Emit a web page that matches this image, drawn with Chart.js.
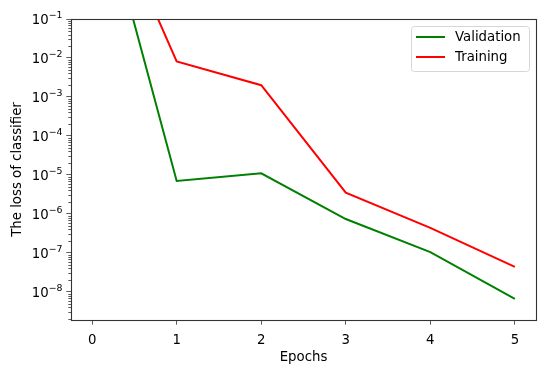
<!DOCTYPE html>
<html>
<head>
<meta charset="utf-8">
<script src="https://cdn.jsdelivr.net/npm/chart.js@4.4.1/dist/chart.umd.min.js"></script>
<style>
  html, body { margin: 0; padding: 0; background: #fff; }
  canvas { display: block; }
</style>
</head>
<body>
<canvas id="myChart" width="550" height="371"></canvas>
<script>
// data
var epochs = [0, 1, 2, 3, 4, 5];
var validation = [800, 7.0e-6, 1.1e-5, 7.4e-7, 1.05e-7, 6.6e-9];
var training = [680, 8.2e-3, 2.0e-3, 3.5e-6, 4.4e-7, 4.4e-8];
var yTicks = [1e-8, 1e-7, 1e-6, 1e-5, 1e-4, 1e-3, 1e-2, 1e-1];
var yExponents = ['−8', '−7', '−6', '−5', '−4', '−3', '−2', '−1'];
var seriesNames = ['Validation', 'Training'];
var seriesColors = ['#008000', '#ff0000'];

var font = 'DejaVu Sans';
var spine = '#333333';

function points(ys) {
  return epochs.map(function (x, i) { return { x: x, y: ys[i] }; });
}

// frame, minor ticks, 10^n labels and legend, drawn like matplotlib does
var mplBits = {
  id: 'mplBits',
  afterDraw: function (chart) {
    var ctx = chart.ctx;
    var a = chart.chartArea;
    var ys = chart.scales.y;
    ctx.save();
    // minor ticks on the log axis
    ctx.strokeStyle = spine;
    ctx.lineWidth = 0.8;
    var lo = Math.floor(Math.log10(ys.min));
    var hi = Math.ceil(Math.log10(ys.max));
    for (var e = lo; e < hi; e++) {
      for (var k = 2; k <= 9; k++) {
        var v = k * Math.pow(10, e);
        if (v < ys.min || v > ys.max) continue;
        var py = Math.round(ys.getPixelForValue(v)) + 0.5;
        ctx.beginPath();
        ctx.moveTo(a.left, py);
        ctx.lineTo(a.left - 2.7, py);
        ctx.stroke();
      }
    }
    // tick labels 10^n with a raised exponent
    ctx.fillStyle = '#000';
    ctx.textAlign = 'right';
    ctx.textBaseline = 'alphabetic';
    var rx = a.left - 8.5;
    for (var j = 0; j < yTicks.length; j++) {
      var ty = ys.getPixelForValue(yTicks[j]);
      ctx.font = '9.4px "' + font + '"';
      var sw = ctx.measureText(yExponents[j]).width;
      ctx.fillText(yExponents[j], rx, ty - 1);
      ctx.font = '13.3px "' + font + '"';
      ctx.fillText('10', rx - sw, ty + 5);
    }
    // frame
    ctx.strokeStyle = spine;
    ctx.lineWidth = 1.1;
    ctx.strokeRect(Math.round(a.left) + 0.5, Math.round(a.top) + 0.5,
      Math.round(a.right - a.left), Math.round(a.bottom - a.top));
    // legend
    var bx = 411, by = 26, bw = 118, bh = 45;
    ctx.fillStyle = 'rgba(255,255,255,0.8)';
    ctx.strokeStyle = '#d6d6d6';
    ctx.lineWidth = 1;
    ctx.beginPath();
    ctx.roundRect(bx + 0.5, by + 0.5, bw, bh, 3);
    ctx.fill();
    ctx.stroke();
    ctx.font = '13.3px "' + font + '"';
    ctx.textBaseline = 'middle';
    ctx.textAlign = 'left';
    for (var i = 0; i < seriesNames.length; i++) {
      var ly = by + 11 + i * 20;
      ctx.strokeStyle = seriesColors[i];
      ctx.lineWidth = 2;
      ctx.beginPath();
      ctx.moveTo(bx + 5, ly);
      ctx.lineTo(bx + 34, ly);
      ctx.stroke();
      ctx.fillStyle = '#000';
      ctx.fillText(seriesNames[i], bx + 44, ly + 1);
    }
    ctx.restore();
  }
};

var grath = new Chart(document.getElementById('myChart'), {
  type: 'line',
  data: {
    datasets: [
      {
        label: seriesNames[0],
        data: points(validation),
        borderColor: seriesColors[0],
        borderWidth: 2,
        pointRadius: 0,
        tension: 0,
        fill: false
      },
      {
        label: seriesNames[1],
        data: points(training),
        borderColor: seriesColors[1],
        borderWidth: 2,
        pointRadius: 0,
        tension: 0,
        fill: false
      }
    ]
  },
  options: {
    responsive: false,
    animation: false,
    layout: { padding: { left: 0, right: 14, top: 19, bottom: 0 } },
    plugins: {
      legend: { display: false },
      tooltip: { enabled: false }
    },
    scales: {
      x: {
        type: 'linear',
        min: -0.25,
        max: 5.25,
        afterBuildTicks: function (scale) {
          scale.ticks = epochs.map(function (v) { return { value: v }; });
        },
        afterFit: function (scale) { scale.height = 51; },
        border: { display: false },
        grid: { drawOnChartArea: false, drawTicks: true, tickLength: 4.7, color: spine, lineWidth: 0.8 },
        ticks: { color: '#000', padding: 8, font: { family: font, size: 13.3 }, maxRotation: 0, autoSkip: false },
        title: { display: true, text: 'Epochs', color: '#000', font: { family: font, size: 13.3 }, padding: { top: 0, bottom: 5 } }
      },
      y: {
        type: 'logarithmic',
        min: 1.9e-9,
        max: 0.1,
        afterBuildTicks: function (scale) {
          scale.ticks = yTicks.map(function (v) { return { value: v }; });
        },
        afterFit: function (scale) { scale.width = 71; },
        border: { display: false },
        grid: { drawOnChartArea: false, drawTicks: true, tickLength: 4.7, color: spine, lineWidth: 0.8 },
        ticks: {
          color: '#000',
          padding: 3,
          autoSkip: false,
          font: { family: font, size: 13.3 },
          callback: function () { return ''; }
        },
        title: { display: true, text: 'The loss of classifier', color: '#000', font: { family: font, size: 13.3 }, padding: { top: 10, bottom: 0 } }
      }
    }
  },
  plugins: [mplBits]
});
</script>
</body>
</html>
